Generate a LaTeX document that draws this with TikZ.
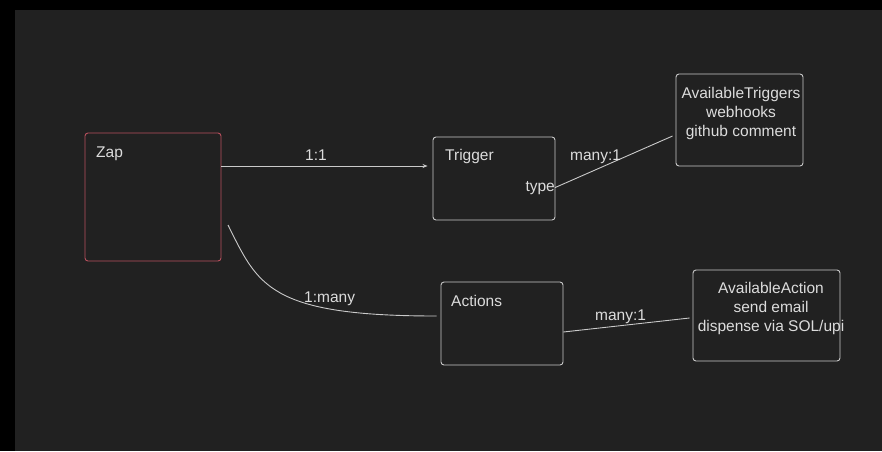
\documentclass[tikz,border=0pt]{standalone}
\usepackage{fontspec}
\setmainfont{Liberation Sans}
\usetikzlibrary{arrows.meta}

\definecolor{canvas}{HTML}{212121}
\definecolor{ink}{HTML}{DCDCDC}
\definecolor{wire}{HTML}{CACACA}
\definecolor{zapred}{HTML}{B8505E}

\tikzset{
  box/.style={draw=wire, rounded corners=3pt, line width=0.9pt, inner sep=0pt},
  zapbox/.style={box, draw=zapred},
  lbl/.style={text=ink, inner sep=0pt, anchor=base west, font=\fontsize{15.5}{18}\selectfont},
  info/.style={text=ink, inner sep=0pt, anchor=north, align=center, font=\fontsize{15.5}{19}\selectfont},
  conn/.style={draw=wire, line width=0.9pt}
}

\begin{document}
\begin{tikzpicture}[x=1pt, y=-1pt]

  % background
  \fill[black] (0,0) rectangle (882,451);
  \fill[canvas] (15,10) rectangle (882,451);
  \useasboundingbox (0,0) rectangle (882,451);

  % entity boxes
  \node[zapbox, minimum width=136pt, minimum height=128pt] (zap) at (153,197) {};
  \node[box, minimum width=122pt, minimum height=83pt] (trigger) at (494,178.5) {};
  \node[box, minimum width=127pt, minimum height=92pt] (avtrig) at (739.5,120) {};
  \node[box, minimum width=122pt, minimum height=83pt] (actions) at (502,323.5) {};
  \node[box, minimum width=147pt, minimum height=91pt] (avact) at (766.5,315.5) {};

  % box titles
  \node[lbl] (zaptitle) at (96,157) {Zap};
  \node[lbl] (trigtitle) at (445,160) {Trigger};
  \node[lbl, anchor=base east] (trigtype) at (555,191) {type};
  \node[lbl] (acttitle) at (451,306) {Actions};
  \node[info] (avtrigtext) at (741,87) {AvailableTriggers\\webhooks\\github comment};
  \node[info] (avacttext) at (771,282) {AvailableAction\\send email\\dispense via SOL/upi};

  % relations
  \draw[conn, -{Stealth[length=5pt, width=4pt]}] ([yshift=31pt]zap.east) -- ([xshift=-5pt, yshift=12.5pt]trigger.west);
  \node[lbl] (onetoone) at (305,160) {1:1};
  \draw[conn] (trigtype.east) -- ([xshift=-3pt, yshift=-16pt]avtrig.west);
  \node[lbl] (manytrig) at (570,160) {many:1};

  \coordinate (zapout) at (228,225);
  \draw[conn] (zapout) .. controls (258,285) and (268,316) .. ([xshift=-4pt, yshift=7.5pt]actions.west);
  \node[lbl] (onetomany) at (304,302) {1:many};

  \draw[conn] ([yshift=-8.5pt]actions.east) -- ([xshift=-3pt, yshift=-2.5pt]avact.west);
  \node[lbl] (manyact) at (595,320) {many:1};

\end{tikzpicture}
\end{document}
